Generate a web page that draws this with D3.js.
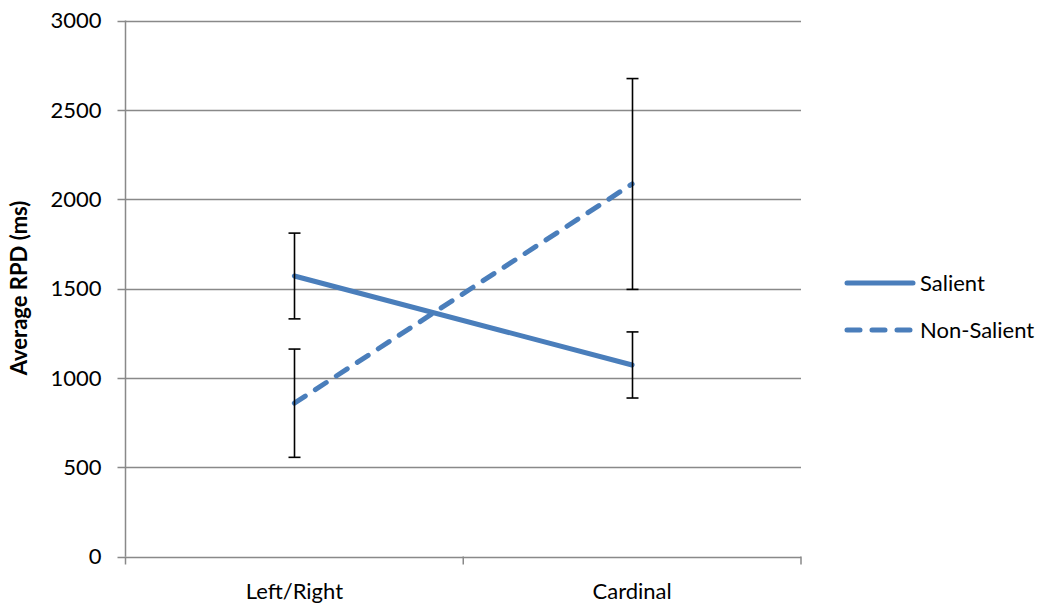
<!DOCTYPE html>
<html><head><meta charset="utf-8">
<script src="https://cdn.jsdelivr.net/npm/d3@7"></script>
<style>body{margin:0;background:#fff}text{font-family:Lato,"Open Sans",sans-serif}</style>
</head><body><svg id="c" width="1056" height="607"></svg>
<script>
const categories = ["Left/Right", "Cardinal"];
const seriesNames = ["Salient", "Non-Salient"];
const salientValues = [1570, 1072];
const salientErrors = [240, 185];
const nonSalientValues = [858, 2085];
const nonSalientErrors = [303, 590];
const yTicks = [0, 500, 1000, 1500, 2000, 2500, 3000];

const svg = d3.select("#c");
const L = 125.5, R = 801, T = 20.5, B = 556.5;
const FS = 22;
const x = d3.scaleBand().domain(categories).range([L, R]);
const y = d3.scaleLinear().domain([0, 3000]).range([B, T]);
const grey = "#898989", blue = "#4a7ebb";
const DASH = "13,12";

svg.append("g").selectAll("line").data(yTicks).join("line")
  .attr("x1", L - 8).attr("x2", R).attr("y1", d => Math.round(y(d)) + 0.5).attr("y2", d => Math.round(y(d)) + 0.5)
  .attr("stroke", grey).attr("stroke-width", 1.5);
svg.append("g").selectAll("text").data(yTicks).join("text")
  .attr("x", L - 24).attr("y", d => y(d)).attr("dy", "0.35em").attr("text-anchor", "end")
  .attr("font-size", FS).attr("fill", "#000").text(d => d);
svg.append("line").attr("x1", L).attr("x2", L).attr("y1", T).attr("y2", B).attr("stroke", grey).attr("stroke-width", 1.5);
const xb = categories.map(c => x(c)).concat([R]);
svg.append("g").selectAll("line").data(xb).join("line")
  .attr("x1", d => d).attr("x2", d => d).attr("y1", B).attr("y2", B + 8).attr("stroke", grey).attr("stroke-width", 1.5);
svg.append("g").selectAll("text").data(categories).join("text")
  .attr("x", d => x(d) + x.bandwidth() / 2).attr("y", 599).attr("text-anchor", "middle")
  .attr("font-size", FS).attr("fill", "#000").text(d => d);
svg.append("text").attr("transform", "translate(27,288) rotate(-90)").attr("text-anchor", "middle")
  .attr("font-size", FS).attr("font-weight", "bold").attr("fill", "#000").text("Average RPD (ms)");

const cx = d => x(d) + x.bandwidth() / 2;
const series = [
  {name: seriesNames[0], vals: salientValues, errs: salientErrors, dash: null},
  {name: seriesNames[1], vals: nonSalientValues, errs: nonSalientErrors, dash: DASH}
];
const line = d3.line().x(d => cx(d.c)).y(d => y(d.v));
series.forEach(s => {
  const pts = categories.map((c, i) => ({c, v: s.vals[i], e: s.errs[i]}));
  svg.append("path").datum(pts).attr("d", line).attr("fill", "none").attr("stroke", blue)
    .attr("stroke-width", 5).attr("stroke-linecap", "round").attr("stroke-dasharray", s.dash);
});
series.forEach(s => {
  const pts = categories.map((c, i) => ({c, v: s.vals[i], e: s.errs[i]}));
  const g = svg.append("g").attr("stroke", "#000").attr("stroke-width", 1.6);
  pts.forEach(p => {
    const X = Math.round(cx(p.c)) + 0.5;
    g.append("line").attr("x1", X).attr("x2", X).attr("y1", y(p.v + p.e)).attr("y2", y(p.v - p.e));
    [p.v + p.e, p.v - p.e].forEach(v => g.append("line").attr("x1", X - 6).attr("x2", X + 6).attr("y1", y(v)).attr("y2", y(v)));
  });
});
series.forEach((s, i) => {
  const ly = 283 + i * 47;
  svg.append("line").attr("x1", 847).attr("x2", 913).attr("y1", ly).attr("y2", ly).attr("stroke", blue)
    .attr("stroke-width", 5).attr("stroke-linecap", "round").attr("stroke-dasharray", s.dash);
  svg.append("text").attr("x", 920).attr("y", ly).attr("dy", "0.35em").attr("font-size", FS).attr("fill", "#000").text(s.name);
});
</script></body></html>
